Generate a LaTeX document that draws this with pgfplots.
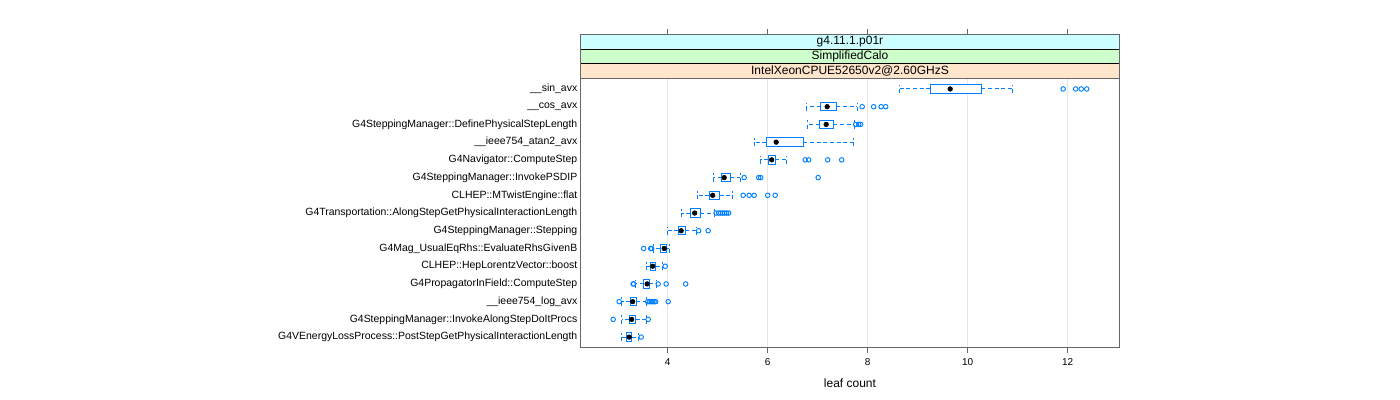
\documentclass[border=0pt]{standalone}
\usepackage{pgfplots}
\pgfplotsset{compat=1.18}
\usepgfplotslibrary{statistics}
\usepackage{fontspec}
\setmainfont{Liberation Sans}
\definecolor{lblue}{HTML}{0080FF}
\definecolor{stripA}{HTML}{CCFFFF}
\definecolor{stripB}{HTML}{CCFFCC}
\definecolor{stripC}{HTML}{FFE5CC}
\definecolor{gridc}{HTML}{E6E6E6}
\newcommand{\bp}[6]{\addplot[lblue, boxplot prepared={draw position=#1, lower whisker=#2, lower quartile=#3, median=#4, upper quartile=#5, upper whisker=#6}] coordinates {};}
\begin{document}
\begin{tikzpicture}
\path[use as bounding box] (0,0) rectangle (1050pt,300pt);
\begin{axis}[
  at={(435.2pt,39.2pt)}, anchor=south west,
  scale only axis, width=404.55pt, height=202.05pt,
  xmin=2.252, xmax=13.04, ymin=0.4, ymax=15.6,
  xtick={4,6,8,10,12}, ytick={1,...,15},
  yticklabels={G4VEnergyLossProcess::PostStepGetPhysicalInteractionLength,
    G4SteppingManager::InvokeAlongStepDoItProcs,
    \_\_ieee754\_log\_avx,
    G4PropagatorInField::ComputeStep,
    CLHEP::HepLorentzVector::boost,
    G4Mag\_UsualEqRhs::EvaluateRhsGivenB,
    G4SteppingManager::Stepping,
    G4Transportation::AlongStepGetPhysicalInteractionLength,
    CLHEP::MTwistEngine::flat,
    G4SteppingManager::InvokePSDIP,
    G4Navigator::ComputeStep,
    \_\_ieee754\_atan2\_avx,
    G4SteppingManager::DefinePhysicalStepLength,
    \_\_cos\_avx,
    \_\_sin\_avx},
  xtick pos=left, ytick pos=left,
  tick align=outside,
  major x tick style={black!60, line width=0.6pt},
  major tick length=4.2pt,
  major y tick style={draw=none},
  xmajorgrids, grid style={gridc, line width=0.6pt},
  axis line style={black!60, line width=0.8pt},
  xticklabel style={font=\fontsize{7.5}{9}\selectfont, yshift=-0.5pt},
  yticklabel style={font=\fontsize{7.85}{9.4}\selectfont, xshift=5.5pt},
  /pgf/number format/assume math mode=true,
  xlabel={leaf count},
  xlabel style={font=\fontsize{9}{10.8}\selectfont, yshift=-3pt},
  boxplot/draw direction=x,
  boxplot/box extend=0.47,
  boxplot/whisker extend=0.47,
  boxplot/every box/.style={draw=lblue, fill=white, solid, line width=0.75pt},
  boxplot/every whisker/.style={draw=lblue, dash pattern=on 3pt off 2pt, line width=0.75pt},
  boxplot/every median/.style={draw=none},
  clip=false,
]
\bp{15}{8.63}{9.25}{9.65}{10.27}{10.89}
\bp{14}{6.77}{7.06}{7.19}{7.37}{7.79}
\bp{13}{6.79}{7.04}{7.17}{7.31}{7.73}
\bp{12}{5.74}{5.97}{6.17}{6.71}{7.71}
\bp{11}{5.85}{6.01}{6.08}{6.15}{6.37}
\bp{10}{4.91}{5.08}{5.13}{5.25}{5.45}
\bp{9}{4.59}{4.83}{4.90}{5.04}{5.29}
\bp{8}{4.27}{4.45}{4.54}{4.65}{4.94}
\bp{7}{3.99}{4.21}{4.27}{4.35}{4.58}
\bp{6}{3.71}{3.85}{3.93}{3.97}{4.03}
\bp{5}{3.57}{3.65}{3.70}{3.76}{3.89}
\bp{4}{3.36}{3.52}{3.59}{3.63}{3.77}
\bp{3}{3.07}{3.25}{3.30}{3.37}{3.57}
\bp{2}{3.08}{3.23}{3.28}{3.36}{3.57}
\bp{1}{3.08}{3.17}{3.23}{3.28}{3.41}
% outliers
\addplot[only marks, mark=o, mark size=1.7pt, lblue, mark options={line width=0.7pt}] coordinates {
 (11.91,15) (12.16,15) (12.27,15) (12.38,15)
 (7.89,14) (8.12,14) (8.27,14) (8.36,14)
 (7.76,13) (7.82,13) (7.86,13)
 (6.75,11) (6.82,11) (7.20,11) (7.48,11)
 (5.53,10) (5.82,10) (5.86,10) (7.01,10)
 (5.51,9) (5.63,9) (5.73,9) (6.00,9) (6.15,9)
 (4.97,8) (5.02,8) (5.06,8) (5.10,8) (5.14,8) (5.18,8) (5.22,8)
 (4.62,7) (4.81,7)
 (3.52,6) (3.66,6) (3.68,6)
 (3.95,5)
 (3.31,4) (3.32,4) (3.81,4) (3.97,4) (4.36,4)
 (3.03,3) (3.60,3) (3.64,3) (3.67,3) (3.70,3) (3.73,3) (3.76,3) (4.01,3)
 (2.91,2) (3.61,2)
 (3.47,1)
};
% medians
\addplot[only marks, mark=*, mark size=1.75pt, black] coordinates {
 (9.65,15) (7.19,14) (7.17,13) (6.17,12) (6.08,11) (5.13,10) (4.90,9) (4.54,8)
 (4.27,7) (3.93,6) (3.70,5) (3.59,4) (3.30,3) (3.28,2) (3.23,1)
};
\end{axis}
\begin{axis}[
  at={(435.2pt,241.3pt)}, anchor=south west,
  scale only axis, width=404.55pt, height=32.7pt,
  xmin=2.252, xmax=13.04, ymin=0, ymax=3,
  xtick={4,6,8,10,12}, xticklabels={}, ytick=\empty,
  xtick pos=right, tick align=outside,
  major tick length=4pt,
  major x tick style={black!60, line width=0.6pt},
  axis line style={black!60, line width=0.8pt},
  axis on top,
]
\fill[stripC] (rel axis cs:0,0) rectangle (rel axis cs:1,0.3333);
\fill[stripB] (rel axis cs:0,0.3333) rectangle (rel axis cs:1,0.6667);
\fill[stripA] (rel axis cs:0,0.6667) rectangle (rel axis cs:1,1);
\draw[black, line width=0.7pt] (rel axis cs:0,0.3333) -- (rel axis cs:1,0.3333);
\draw[black, line width=0.7pt] (rel axis cs:0,0.6667) -- (rel axis cs:1,0.6667);
\draw[black, line width=0.7pt] (rel axis cs:0,0) -- (rel axis cs:1,0);
\node[font=\fontsize{9}{10.8}\selectfont] at (rel axis cs:0.5,0.1667) {IntelXeonCPUE52650v2@2.60GHzS};
\node[font=\fontsize{9}{10.8}\selectfont] at (rel axis cs:0.5,0.5) {SimplifiedCalo};
\node[font=\fontsize{9}{10.8}\selectfont] at (rel axis cs:0.5,0.8333) {g4.11.1.p01r};
\end{axis}
\end{tikzpicture}
\end{document}
